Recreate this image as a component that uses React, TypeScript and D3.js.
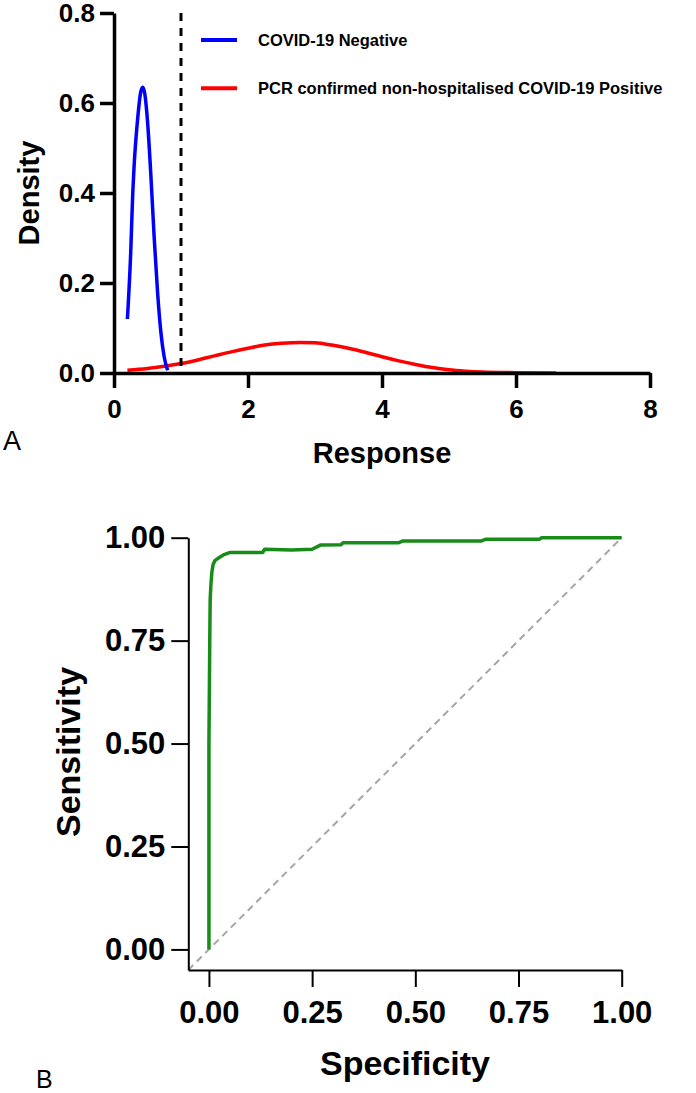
import React, { useEffect, useRef } from 'react';
import * as d3 from 'd3';

// Panel A: kernel density of response values
const negX = [0.2, 0.25, 0.28, 0.3, 0.35, 0.4, 0.43, 0.46, 0.5, 0.55, 0.6, 0.65, 0.7, 0.75, 0.8];
const negY = [0.12, 0.27, 0.4, 0.46, 0.56, 0.625, 0.635, 0.62, 0.56, 0.44, 0.3, 0.18, 0.09, 0.035, 0.006];

const posX = [0.2, 0.5, 0.8, 1.0, 1.25, 1.5, 1.75, 2.0, 2.25, 2.5, 2.78, 3.0, 3.25, 3.5, 3.75, 4.0, 4.25, 4.5, 4.75, 5.0, 5.25, 5.5, 6.0, 6.6];
const posY = [0.006, 0.01, 0.016, 0.021, 0.029, 0.038, 0.047, 0.055, 0.062, 0.066, 0.068, 0.067, 0.062, 0.055, 0.046, 0.036, 0.027, 0.019, 0.012, 0.007, 0.004, 0.002, 0.0007, 0.0];

const cutoff = 1;
const densityTicks = [0, 0.2, 0.4, 0.6, 0.8];
const responseTicks = [0, 2, 4, 6, 8];
const legendLabels = ['COVID-19 Negative', 'PCR confirmed non-hospitalised COVID-19 Positive'];

// Panel B: ROC curve
const rocX = [0, 0, 0, 0.002, 0.003, 0.005, 0.007, 0.01, 0.015, 0.025, 0.035, 0.05, 0.13, 0.135, 0.2, 0.25, 0.27, 0.32, 0.325, 0.46, 0.47, 0.66, 0.67, 0.8, 0.806, 1.0];
const rocY = [0, 0.25, 0.5, 0.75, 0.85, 0.89, 0.915, 0.935, 0.945, 0.952, 0.958, 0.964, 0.964, 0.972, 0.97, 0.972, 0.982, 0.983, 0.988, 0.988, 0.992, 0.992, 0.996, 0.996, 1.0, 1.0];
const rocTicks = [0, 0.25, 0.5, 0.75, 1];

const FONT = '"Liberation Sans", Arial, sans-serif';

export default function App() {
  const svgRef = useRef<SVGSVGElement | null>(null);

  useEffect(() => {
    if (!svgRef.current) return;
    const svg = d3.select(svgRef.current);
    svg.selectAll('*').remove();

    // ---------- Panel A ----------
    const xA = d3.scaleLinear().domain([0, 8]).range([114, 650]);
    const yA = d3.scaleLinear().domain([0, 0.8]).range([373, 13]);
    const gA = svg.append('g');

    const line = d3
      .line<[number, number]>()
      .x((d) => xA(d[0]))
      .y((d) => yA(d[1]))
      .curve(d3.curveMonotoneX);

    gA.append('path')
      .datum(posX.map((x, i) => [x, posY[i]] as [number, number]))
      .attr('d', line)
      .attr('fill', 'none')
      .attr('stroke', '#ff0000')
      .attr('stroke-width', 3.5);

    gA.append('path')
      .datum(negX.map((x, i) => [x, negY[i]] as [number, number]))
      .attr('d', line)
      .attr('fill', 'none')
      .attr('stroke', '#0000ff')
      .attr('stroke-width', 3.5);

    gA.append('line')
      .attr('x1', xA(cutoff))
      .attr('x2', xA(cutoff))
      .attr('y1', yA(0.8))
      .attr('y2', yA(0))
      .attr('stroke', '#000')
      .attr('stroke-width', 3)
      .attr('stroke-dasharray', '8,7');

    const axA = gA.append('g').attr('transform', `translate(0,${yA(0)})`).call(
      d3.axisBottom(xA).tickValues(responseTicks).tickFormat(d3.format('d')).tickSize(15).tickSizeOuter(0).tickPadding(12)
    );
    const ayA = gA.append('g').attr('transform', `translate(${xA(0)},0)`).call(
      d3.axisLeft(yA).tickValues(densityTicks).tickFormat(d3.format('.1f')).tickSize(14).tickSizeOuter(0).tickPadding(5)
    );
    [axA, ayA].forEach((a) => {
      a.selectAll('path,line').attr('stroke', '#000').attr('stroke-width', 3.5);
      a.selectAll('text')
        .attr('fill', '#000')
        .attr('font-family', FONT)
        .attr('font-weight', 'bold')
        .attr('font-size', 26);
    });

    gA.append('text')
      .attr('transform', 'translate(39,193) rotate(-90)')
      .attr('text-anchor', 'middle')
      .attr('font-family', FONT)
      .attr('font-weight', 'bold')
      .attr('font-size', 29)
      .text('Density');

    gA.append('text')
      .attr('x', (xA(0) + xA(8)) / 2)
      .attr('y', 463)
      .attr('text-anchor', 'middle')
      .attr('font-family', FONT)
      .attr('font-weight', 'bold')
      .attr('font-size', 29)
      .text('Response');

    const legend = gA.append('g');
    const legendColors = ['#0000ff', '#ff0000'];
    legendLabels.forEach((lab, i) => {
      const ly = 40 + i * 48.3;
      legend.append('line')
        .attr('x1', 201).attr('x2', 237).attr('y1', ly).attr('y2', ly)
        .attr('stroke', legendColors[i]).attr('stroke-width', 4);
      legend.append('text')
        .attr('x', 258).attr('y', ly + 6)
        .attr('font-family', FONT).attr('font-weight', 'bold').attr('font-size', 16.5)
        .text(lab);
    });

    svg.append('text')
      .attr('x', 3).attr('y', 450)
      .attr('font-family', FONT).attr('font-size', 27)
      .text('A');

    // ---------- Panel B ----------
    const xB = d3.scaleLinear().domain([-0.05, 1]).range([188.3, 621.7]);
    const yB = d3.scaleLinear().domain([-0.05, 1]).range([970, 537.7]);
    const gB = svg.append('g');

    gB.append('line')
      .attr('x1', xB(-0.05)).attr('y1', yB(-0.05))
      .attr('x2', xB(1)).attr('y2', yB(1))
      .attr('stroke', '#a6a6a6').attr('stroke-width', 2).attr('stroke-dasharray', '7,5');

    const rocLine = d3
      .line<[number, number]>()
      .x((d) => xB(d[0]))
      .y((d) => yB(d[1]));

    gB.append('path')
      .datum(rocX.map((x, i) => [x, rocY[i]] as [number, number]))
      .attr('d', rocLine)
      .attr('fill', 'none')
      .attr('stroke', '#188c18')
      .attr('stroke-width', 3.5)
      .attr('stroke-linejoin', 'round');

    const axB = gB.append('g').attr('transform', `translate(0,970)`).call(
      d3.axisBottom(xB).tickValues(rocTicks).tickFormat(d3.format('.2f')).tickSize(17).tickSizeOuter(0).tickPadding(14)
    );
    const ayB = gB.append('g').attr('transform', `translate(188.3,0)`).call(
      d3.axisLeft(yB).tickValues(rocTicks).tickFormat(d3.format('.2f')).tickSize(17).tickSizeOuter(0).tickPadding(6)
    );
    [axB, ayB].forEach((a) => {
      a.selectAll('path,line').attr('stroke', '#000').attr('stroke-width', 2);
      a.selectAll('text')
        .attr('fill', '#000')
        .attr('font-family', FONT)
        .attr('font-weight', 'bold')
        .attr('font-size', 31);
    });

    gB.append('text')
      .attr('transform', 'translate(80,752) rotate(-90)')
      .attr('text-anchor', 'middle')
      .attr('font-family', FONT)
      .attr('font-weight', 'bold')
      .attr('font-size', 34)
      .text('Sensitivity');

    gB.append('text')
      .attr('x', 405)
      .attr('y', 1075)
      .attr('text-anchor', 'middle')
      .attr('font-family', FONT)
      .attr('font-weight', 'bold')
      .attr('font-size', 34)
      .text('Specificity');

    svg.append('text')
      .attr('x', 36).attr('y', 1088)
      .attr('font-family', FONT).attr('font-size', 25)
      .text('B');
  }, []);

  return (
    <div style={{ position: 'absolute', left: 0, top: 0, background: '#fff' }}>
      <svg ref={svgRef} width={696} height={1093} style={{ display: 'block' }} />
    </div>
  );
}
